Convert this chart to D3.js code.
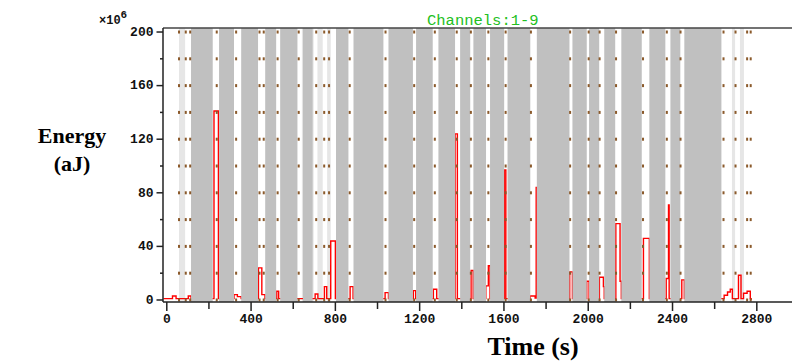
<!DOCTYPE html>
<html>
<head>
<meta charset="utf-8">
<script src="https://cdn.jsdelivr.net/npm/d3@7"></script>
<style>
  body { margin: 0; background: #fff; }
  svg { display: block; }
</style>
</head>
<body>
<div id="chart"></div>
<script>
// step series: time (s) and energy (x10^6 aJ), value holds until next time
const timeS = [-16, 27, 44, 102, 115, 224, 245, 319, 335, 353, 435, 451, 466, 522, 531,
  704, 717, 748, 759, 778, 800, 870, 884, 1036, 1052, 1170, 1181, 1265, 1281,
  1368, 1379, 1444, 1454, 1514, 1526, 1534, 1602, 1609, 1724, 1748, 1753, 1760,
  1912, 1925, 1993, 2004, 2053, 2072, 2076, 2131, 2151, 2157, 2262, 2290,
  2370, 2381, 2384, 2444, 2456, 2645, 2661, 2674, 2684, 2713, 2725, 2737, 2754, 2769, 2773];
const energy = [1, 3, 1, 3, 1, 141, 1, 4, 2.5, 1, 24, 4, 1, 6.5, 1,
  4.5, 1, 10, 1, 44, 1, 10, 1, 5.5, 1, 7, 1, 8, 1,
  124, 1, 22, 1, 10.5, 25.5, 1, 97, 1, 3, 1.5, 84, 1,
  21, 1, 14, 1, 17, 10, 1, 57, 14, 1, 46, 1,
  16, 71, 1, 15, 1, 3.5, 6, 8, 1, 18.5, 1, 5, 6.5, 1, 0];

// shaded time intervals
const darkStart = [115, 248, 353, 467, 538, 646, 803, 886, 1052, 1183, 1289, 1392, 1455,
  1534, 1617, 1756, 1925, 2004, 2076, 2157, 2290, 2390, 2456];
const darkEnd = [218, 319, 433, 519, 620, 692, 862, 1028, 1168, 1262, 1368, 1440, 1515,
  1601, 1725, 1911, 1993, 2052, 2128, 2254, 2366, 2437, 2632];
const lightStart = [58, 641, 715, 761, 2682, 2720];
const lightEnd = [87, 697, 740, 778, 2697, 2739];

// event marker columns (s) and their dot levels
const markerTimes = [58, 90, 111, 237, 329, 440, 460, 526, 626, 709, 747, 770, 868,
  1038, 1174, 1272, 1376, 1443, 1526, 1608, 1728, 1914, 2002, 2054, 2132, 2260,
  2373, 2438, 2642, 2699, 2754, 2771];
const dotLevels = [0, 20, 40, 60, 80, 100, 120, 140, 160, 180, 200];

const yMajor = [0, 40, 80, 120, 160, 200];
const yMinor = [20, 60, 100, 140, 180];
const xMajor = [0, 400, 800, 1200, 1600, 2000, 2400, 2800];
const xMinor = [200, 600, 1000, 1400, 1800, 2200, 2600];

const W = 792, H = 364;
const svg = d3.select('#chart').append('svg')
  .attr('width', W).attr('height', H);

const x = d3.scaleLinear().domain([-18, 2967]).range([163, 792]);
const y = d3.scaleLinear().domain([-1.5, 203]).range([302, 28]);
const plotTop = y(203), plotBottom = y(-1.5);

// light bands
svg.append('g').selectAll('rect')
  .data(lightStart)
  .enter().append('rect')
    .attr('x', (d) => x(d))
    .attr('y', plotTop)
    .attr('width', (d, i) => x(lightEnd[i]) - x(d))
    .attr('height', plotBottom - plotTop)
    .attr('fill', '#e6e6e6');

// energy step line
const pts = timeS.map((t, i) => [t, energy[i]]);
const line = d3.line()
  .curve(d3.curveStepAfter)
  .x(d => x(d[0]))
  .y(d => y(d[1]));

svg.append('path')
  .attr('d', line(pts))
  .attr('fill', 'none')
  .attr('stroke', '#ff0000')
  .attr('stroke-width', 1.4);

// dark bands
svg.append('g').selectAll('rect')
  .data(darkStart)
  .enter().append('rect')
    .attr('x', (d) => x(d))
    .attr('y', plotTop)
    .attr('width', (d, i) => x(darkEnd[i]) - x(d))
    .attr('height', plotBottom - plotTop)
    .attr('fill', '#c0c0c0');

// marker dots
const dots = [];
markerTimes.forEach(t => dotLevels.forEach(v => dots.push([t, v])));
svg.append('g').selectAll('rect')
  .data(dots)
  .enter().append('rect')
    .attr('x', d => x(d[0]) - 1)
    .attr('y', d => y(d[1]) - 1.5)
    .attr('width', 2)
    .attr('height', 3)
    .attr('fill', '#8b5a2b');

// frame lines
svg.append('line')
  .attr('x1', 163).attr('x2', W).attr('y1', plotTop).attr('y2', plotTop)
  .attr('stroke', '#444').attr('stroke-width', 1.5);
svg.append('line')
  .attr('x1', 163).attr('x2', W).attr('y1', plotBottom).attr('y2', plotBottom)
  .attr('stroke', '#222').attr('stroke-width', 1.5);
svg.append('line')
  .attr('x1', 163).attr('x2', 163).attr('y1', plotTop).attr('y2', plotBottom)
  .attr('stroke', '#222').attr('stroke-width', 1.5);

const tickFont = "'Liberation Mono', monospace";

// y ticks
const yAxis = svg.append('g');
yAxis.selectAll('.maj').data(yMajor).enter().append('line')
  .attr('x1', 156.5).attr('x2', 163)
  .attr('y1', d => y(d)).attr('y2', d => y(d))
  .attr('stroke', '#222').attr('stroke-width', 1.5);
yAxis.selectAll('.min').data(yMinor).enter().append('line')
  .attr('x1', 160).attr('x2', 163)
  .attr('y1', d => y(d)).attr('y2', d => y(d))
  .attr('stroke', '#222').attr('stroke-width', 1.5);
yAxis.selectAll('text').data(yMajor).enter().append('text')
  .attr('x', 153.5)
  .attr('y', d => y(d) + 3.7)
  .attr('text-anchor', 'end')
  .attr('font-family', tickFont)
  .attr('font-weight', 'bold')
  .attr('font-size', '13px')
  .attr('fill', '#111')
  .text(d => d);

// x ticks
const xAxis = svg.append('g');
xAxis.selectAll('.maj').data(xMajor).enter().append('line')
  .attr('x1', d => x(d)).attr('x2', d => x(d))
  .attr('y1', plotBottom).attr('y2', 311)
  .attr('stroke', '#222').attr('stroke-width', 1.5);
xAxis.selectAll('.min').data(xMinor).enter().append('line')
  .attr('x1', d => x(d)).attr('x2', d => x(d))
  .attr('y1', plotBottom).attr('y2', 309)
  .attr('stroke', '#222').attr('stroke-width', 1.5);
xAxis.selectAll('text').data(xMajor).enter().append('text')
  .attr('x', d => x(d))
  .attr('y', 322.5)
  .attr('text-anchor', 'middle')
  .attr('font-family', tickFont)
  .attr('font-weight', 'bold')
  .attr('font-size', '13px')
  .attr('fill', '#111')
  .text(d => d);

// multiplier
const mult = svg.append('text')
  .attr('x', 99).attr('y', 24)
  .attr('font-family', tickFont)
  .attr('font-weight', 'bold')
  .attr('font-size', '12px')
  .attr('fill', '#111');
mult.append('tspan').text('\u00d710');
mult.append('tspan').attr('dy', -6).attr('font-size', '11px').text('6');

// title
svg.append('text')
  .attr('x', 427).attr('y', 25)
  .attr('font-family', tickFont)
  .attr('font-size', '15.5px')
  .attr('fill', '#22c022')
  .text('Channels:1-9');

// axis titles
const serif = "'Liberation Serif', 'Times New Roman', serif";
svg.append('text')
  .attr('x', 72).attr('y', 143)
  .attr('text-anchor', 'middle')
  .attr('font-family', serif).attr('font-weight', 'bold')
  .attr('font-size', '22px')
  .text('Energy');
svg.append('text')
  .attr('x', 72).attr('y', 171)
  .attr('text-anchor', 'middle')
  .attr('font-family', serif).attr('font-weight', 'bold')
  .attr('font-size', '22px')
  .text('(aJ)');
svg.append('text')
  .attr('x', 533).attr('y', 355)
  .attr('text-anchor', 'middle')
  .attr('font-family', serif).attr('font-weight', 'bold')
  .attr('font-size', '26px')
  .text('Time (s)');
</script>
</body>
</html>
